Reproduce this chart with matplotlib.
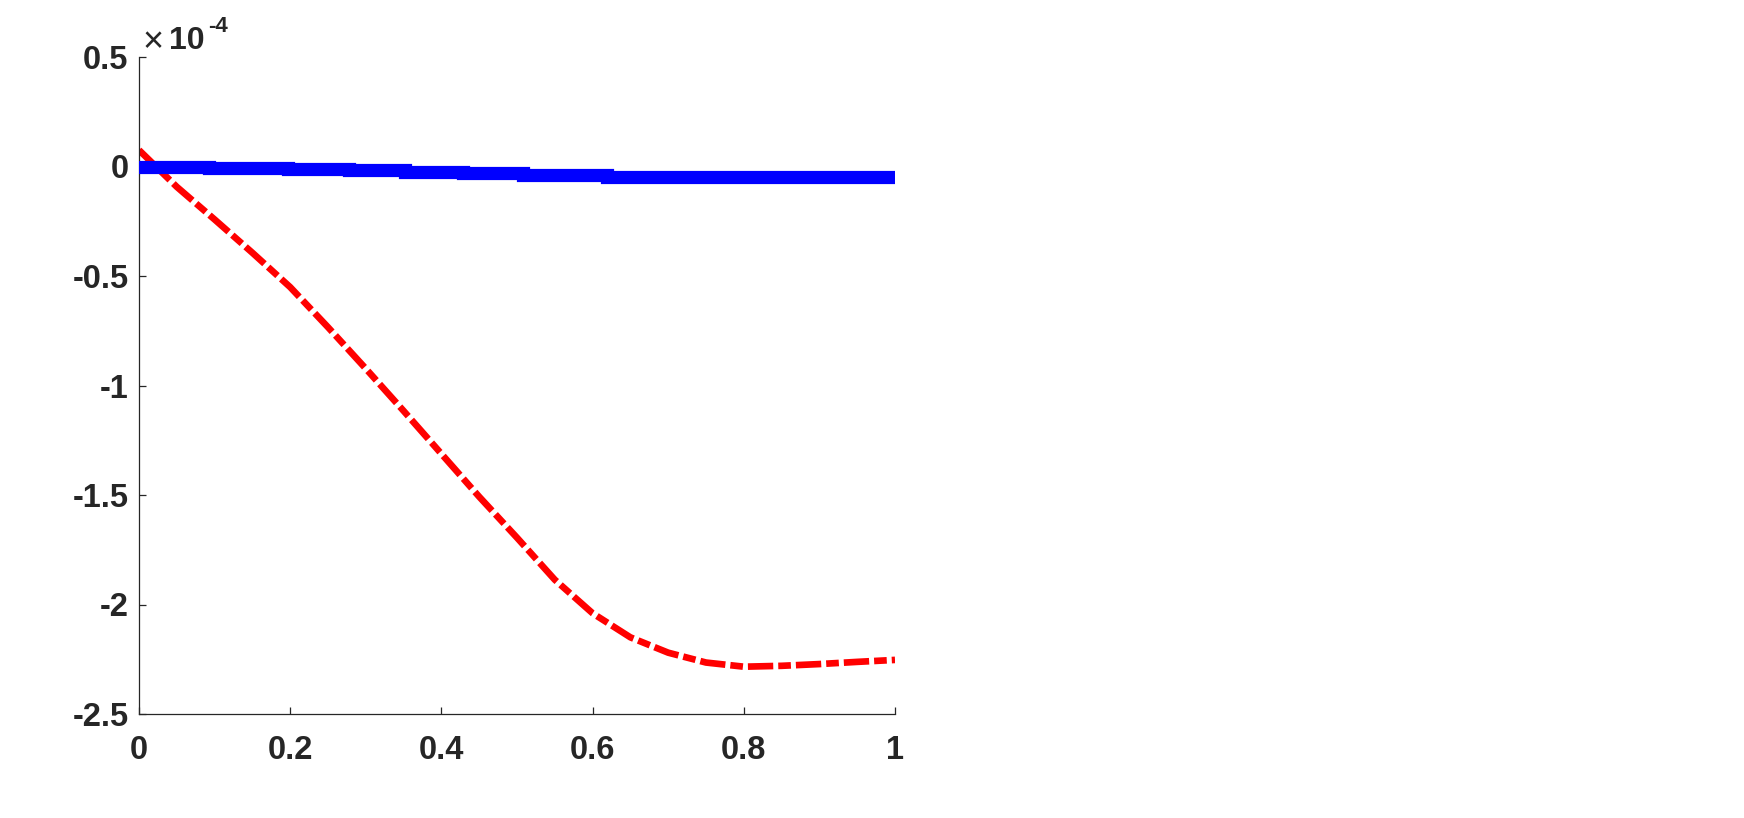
import numpy as np
import matplotlib
matplotlib.use("Agg")
import matplotlib.pyplot as plt
from matplotlib.ticker import FuncFormatter

plt.rcParams['font.family'] = ['Liberation Sans', 'DejaVu Sans']
plt.rcParams['axes.unicode_minus'] = False

# values in units of 1e-4
x_red = [0.0, 0.05, 0.1, 0.15, 0.2, 0.25, 0.3, 0.35, 0.4, 0.45, 0.5,
         0.55, 0.6, 0.65, 0.7, 0.75, 0.8, 0.85, 0.9, 0.95, 1.0]
y_red = [0.075, -0.093, -0.242, -0.394, -0.551, -0.734, -0.923, -1.116, -1.312, -1.508, -1.695,
         -1.887, -2.04, -2.15, -2.22, -2.265, -2.284, -2.28, -2.272, -2.262, -2.253]

x_blue = [0.0, 0.092, 0.092, 0.197, 0.197, 0.278, 0.278, 0.352, 0.352, 0.428, 0.428,
          0.508, 0.508, 0.619, 0.619, 1.0]
y_blue = [0.0, 0.0, -0.006, -0.006, -0.012, -0.012, -0.018, -0.018, -0.024, -0.024, -0.030,
          -0.030, -0.037, -0.037, -0.050, -0.050]

xticks = [0, 0.2, 0.4, 0.6, 0.8, 1]
yticks = [-2.5, -2, -1.5, -1, -0.5, 0, 0.5]

DARK = '#262626'

fig = plt.figure(figsize=(17.44, 8.18), dpi=100)
ax = fig.add_axes([139 / 1744, 1 - 714 / 818, (895 - 139) / 1744, (714 - 57) / 818])

ax.plot(x_blue, y_blue, color='#0000ff', linewidth=9.5, solid_capstyle='round',
        solid_joinstyle='miter', zorder=3)
ax.plot(x_red, y_red, color='#ff0000', linewidth=4.8,
        linestyle=(0, (3.8, 0.75, 1.9, 0.75)), dash_capstyle='butt', zorder=2)

ax.set_xlim(0, 1)
ax.set_ylim(-2.5, 0.5)
ax.set_xticks(xticks)
ax.set_yticks(yticks)
fmt = FuncFormatter(lambda v, p: '%g' % v)
ax.xaxis.set_major_formatter(fmt)
ax.yaxis.set_major_formatter(fmt)

for s in ['top', 'right']:
    ax.spines[s].set_visible(False)
for s in ['left', 'bottom']:
    ax.spines[s].set_color(DARK)
    ax.spines[s].set_linewidth(0.9)

ax.tick_params(axis='both', direction='in', length=5, width=0.9, color=DARK,
               labelsize=23.5, labelcolor=DARK)
ax.tick_params(axis='y', pad=7.5)
ax.tick_params(axis='x', pad=15)
for lab in ax.get_xticklabels() + ax.get_yticklabels():
    lab.set_fontweight('bold')

# exponent label
ax.text(0.004, 1.022, '\u00d7', transform=ax.transAxes, fontsize=26, color=DARK,
        ha='left', va='center')
ax.text(0.04, 1.012, '10', transform=ax.transAxes, fontsize=23, color=DARK,
        fontweight='bold', ha='left', va='baseline')
ax.text(0.091, 1.038, '-4', transform=ax.transAxes, fontsize=16, color=DARK,
        fontweight='bold', ha='left', va='baseline')

fig.savefig('out.png', dpi=100)
